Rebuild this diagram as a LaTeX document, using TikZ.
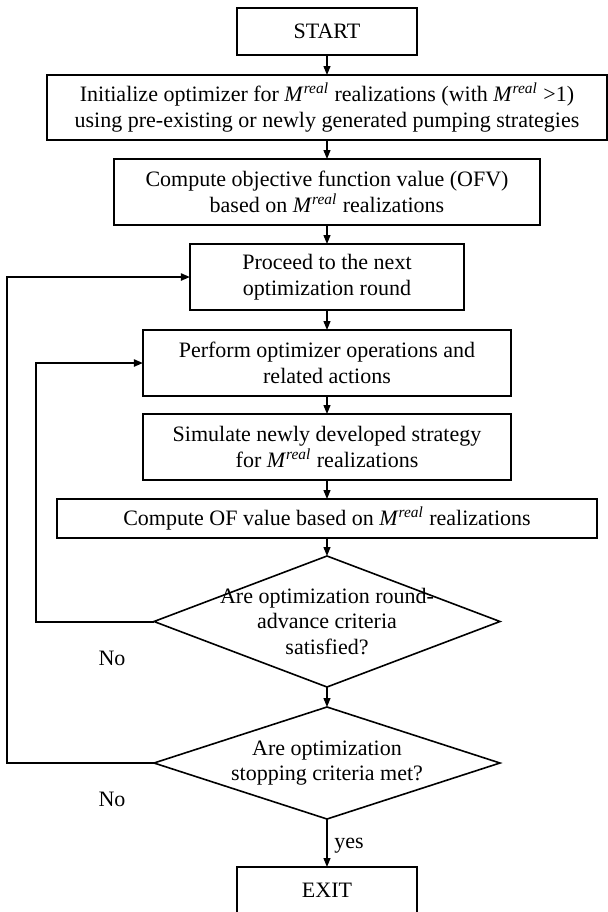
\documentclass[tikz,border=0pt]{standalone}
\usepackage{fontspec}
\setmainfont{Liberation Serif}
\usetikzlibrary{arrows.meta,positioning,shapes.geometric}
\newcommand{\Mreal}{\textit{M}\textsuperscript{\textit{real}}}

\begin{document}
\begin{tikzpicture}[font=\fontsize{11pt}{12.75pt}\selectfont,
  box/.style={draw,line width=0.8pt,align=center,outer sep=0pt,inner sep=2pt,minimum width=#1,minimum height=33pt},
  decision/.style={draw,diamond,aspect=2.6,line width=0.8pt,align=center,outer sep=0pt,inner xsep=-14pt,inner ysep=-8pt,minimum width=173pt,minimum height=#1},
  flow/.style={-{Triangle[length=4.5pt,width=3.5pt]},line width=0.6pt},
  loop/.style={-{Triangle[length=4.5pt,width=3.5pt]},line width=1pt},
  node distance=9.5pt]
\useasboundingbox (-163.5pt,15.75pt) rectangle (140pt,-440.25pt);
\coordinate (outer) at (-160pt,0);
\coordinate (inner) at (-145.5pt,0);
\node[box=90pt,minimum height=23.5pt] (start) at (0,0) {START};
\node[box=280pt,minimum height=32.5pt,below=10pt of start] (init) {Initialize optimizer for \Mreal{} realizations (with \Mreal{} >1)\\ using pre-existing or newly generated pumping strategies};
\node[box=213pt,below=of init] (ofv) {Compute objective function value (OFV)\\ based on \Mreal{} realizations};
\node[box=137pt,below=of ofv] (round) {Proceed to the next\\ optimization round};
\node[box=184pt,below=10pt of round] (oper) {Perform optimizer operations and\\ related actions};
\node[box=184pt,below=9pt of oper] (sim) {Simulate newly developed strategy\\ for \Mreal{} realizations};
\node[box=270pt,minimum height=19.5pt,below=of sim] (ofval) {Compute OF value based on \Mreal{} realizations};
\node[decision=65.5pt,below=9pt of ofval] (adv) {Are optimization round-\\ advance criteria\\ satisfied?};
\node[decision=56pt,below=10pt of adv] (stop) {Are optimization\\ stopping criteria met?};
\node[box=90pt,minimum height=23.5pt,below=24pt of stop] (exit) {EXIT};
\node (no1) at ([xshift=-107.5pt,yshift=-18.5pt]adv.center) {No};
\node (no2) at ([xshift=-107.5pt,yshift=-18pt]stop.center) {No};
% main line
\draw[flow] (start) -- (init);
\draw[flow] (init) -- (ofv);
\draw[flow] (ofv) -- (round);
\draw[flow] (round) -- (oper);
\draw[flow] (oper) -- (sim);
\draw[flow] (sim) -- (ofval);
\draw[flow] (ofval) -- (adv);
\draw[flow] (adv) -- (stop);
\draw[flow] (stop) -- node[right,pos=0.55] {yes} (exit);
% loops back
\draw[loop] (adv.west) -- (adv.west -| inner) |- (oper.west);
\draw[loop] (stop.west) -- (stop.west -| outer) |- (round.west);
\end{tikzpicture}
\end{document}
